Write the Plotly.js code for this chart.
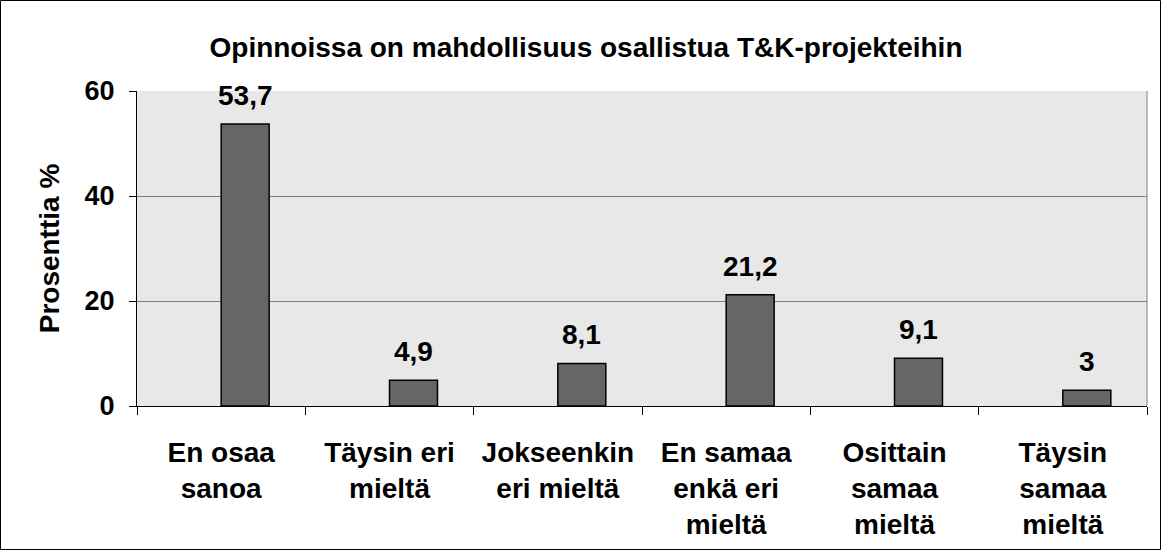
<!DOCTYPE html>
<html><head><meta charset="utf-8">
<script src="https://cdn.plot.ly/plotly-3.0.1.min.js"></script>
<style>html,body{margin:0;padding:0;background:#fff}#c{width:1161px;height:550px}</style>
</head><body><div id="c"></div>
<script>
const categories = ["En osaa<br>sanoa","Täysin eri<br>mieltä","Jokseenkin<br>eri mieltä","En samaa<br>enkä eri<br>mieltä","Osittain<br>samaa<br>mieltä","Täysin<br>samaa<br>mieltä"];
const values = [53.7, 4.9, 8.1, 21.2, 9.1, 3];
const valueLabels = ["53,7","4,9","8,1","21,2","9,1","3"];
const yTicks = [0, 20, 40, 60];
const titleText = "Opinnoissa on mahdollisuus osallistua T&K-projekteihin";
const yTitle = "Prosenttia %";

const F = "Arial, 'Liberation Sans', sans-serif";
const L = 137, R = 14, T = 91, B = 144, W = 1161, H = 550;
const pw = W - L - R, ph = H - T - B;
const barW = 0.285;

const trace = {
  type: 'bar', x: categories, y: values, width: barW, offset: 0,
  marker: {color: '#666666', line: {color: '#000000', width: 1.5}},
  hoverinfo: 'none'
};
const annotations = values.map((v, i) => ({
  x: categories[i], y: v, xref: 'x', yref: 'y', text: valueLabels[i],
  showarrow: false, yanchor: 'bottom', yshift: 11, xshift: barW * pw / 6 / 2,
  font: {family: F, size: 28, color: '#000', weight: 'bold'}
}));
const shapes = [
  {type: 'rect', xref: 'paper', yref: 'paper', x0: (0.5 - L)/pw, x1: (W - 0.5 - L)/pw,
   y0: (T + ph - (H - 0.5))/ph, y1: (T + ph - 0.5)/ph, line: {color: '#000', width: 1}, layer: 'above'},
  {type: 'line', xref: 'paper', yref: 'paper', x0: 1, x1: 1, y0: 0, y1: 1, line: {color: '#808080', width: 1}}
];
const layout = {
  width: W, height: H,
  margin: {l: L, r: R, t: T, b: B},
  paper_bgcolor: '#ffffff', plot_bgcolor: '#E8E8E8',
  showlegend: false,
  title: {text: titleText, x: 586/W, xref: 'container', xanchor: 'center', y: 1 - 47/550, yref: 'container', yanchor: 'middle',
          font: {family: F, size: 28, color: '#000', weight: 'bold'}},
  xaxis: {tickson: 'boundaries', ticks: 'outside', ticklen: 8, tickcolor: '#000', tickwidth: 1,
          showline: true, linecolor: '#000', linewidth: 1, showgrid: false, fixedrange: true,
          ticklabelstandoff: 21,
          tickfont: {family: F, size: 28, color: '#000', weight: 'bold'}},
  yaxis: {range: [0, 60], tickvals: yTicks, ticks: 'outside', ticklen: 7, tickcolor: '#000',
          showline: true, linecolor: '#000', linewidth: 1, showgrid: true, gridcolor: '#808080', gridwidth: 1,
          zeroline: false, ticklabelstandoff: 9, fixedrange: true,
          tickfont: {family: F, size: 27, color: '#000', weight: 'bold'},
          title: {text: yTitle, standoff: 16, font: {family: F, size: 28, color: '#000', weight: 'bold'}}},
  annotations: annotations, shapes: shapes
};
Plotly.newPlot('c', [trace], layout, {displayModeBar: false, staticPlot: true});
</script></body></html>
